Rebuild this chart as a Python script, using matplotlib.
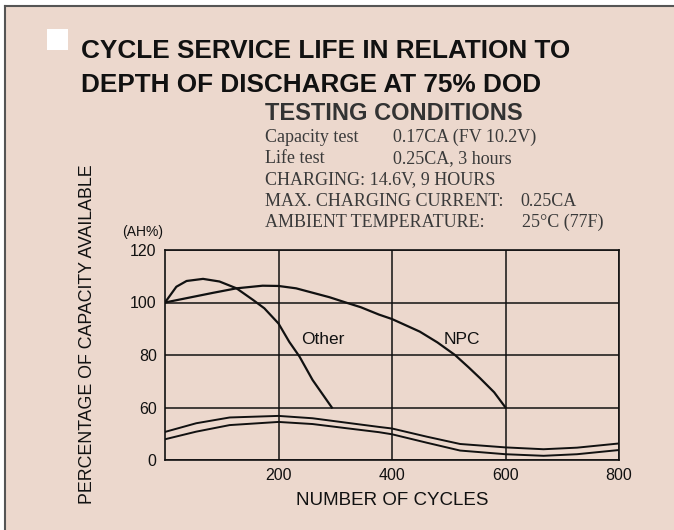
import matplotlib
matplotlib.use('Agg')
import matplotlib.pyplot as plt
from matplotlib.lines import Line2D
from matplotlib.patches import Rectangle

W, H = 674, 530

# curves (x = cycles, y = axis units, bottom tick "0" sits at 40)
other_x = [0, 20, 38, 67, 96, 126, 155, 175, 200, 219, 237, 260, 294]
other_y = [100, 106, 108.2, 109, 108, 105.4, 101, 97.8, 92, 85, 79.4, 70.5, 60]
npc_x = [0, 85, 126, 172, 200, 231, 290, 320, 345, 377, 400, 449, 480, 511, 535, 555, 580, 600]
npc_y = [100, 103.7, 105.4, 106.4, 106.3, 105.4, 102, 99.9, 98.2, 95.4, 93.7, 88.9, 84.8, 80, 75.3, 71.2, 65.8, 60]
band_x = [0, 55, 114, 200, 260, 320, 377, 400, 461, 520, 600, 667, 726, 800]
band_top = [50.7, 54, 56.2, 56.8, 55.9, 54.2, 52.6, 52, 48.9, 46.1, 44.8, 44.1, 44.7, 46.3]
band_bot = [47.9, 50.8, 53.3, 54.5, 53.7, 52.1, 50.6, 49.8, 46.6, 43.6, 42.2, 41.6, 42.2, 43.8]

ytick_pos = [40, 60, 80, 100, 120]
ytick_lab = ['0', '60', '80', '100', '120']
xtick_pos = [200, 400, 600, 800]
xtick_lab = ['200', '400', '600', '800']

cond_lines = [('Capacity test', '0.17CA (FV 10.2V)', 393),
              ('Life test', '0.25CA, 3 hours', 393),
              ('CHARGING: 14.6V, 9 HOURS', '', 0),
              ('MAX. CHARGING CURRENT:', '0.25CA', 520),
              ('AMBIENT TEMPERATURE:', '25\u00b0C (77F)', 522)]

bg = '#ECD8CD'

def px(x, y):
    return x / W, 1 - y / H

fig = plt.figure(figsize=(W / 100, H / 100), dpi=100, facecolor='white')
fig.patches.append(Rectangle(px(5, H), (W - 5) / W, (H - 6) / H, transform=fig.transFigure,
                             facecolor=bg, edgecolor='none', zorder=-10))
fig.lines.append(Line2D([5 / W, 5 / W], [0, 1 - 6 / H], transform=fig.transFigure, color='#555555', lw=1.5))
fig.lines.append(Line2D([5 / W, 1], [1 - 6 / H, 1 - 6 / H], transform=fig.transFigure, color='#555555', lw=1.5))

# white square bullet
fig.patches.append(Rectangle(px(47, 50), 21 / W, 21 / H, transform=fig.transFigure,
                             facecolor='white', edgecolor='none'))

x0, y0 = px(81, 58)
fig.text(x0, y0, 'CYCLE SERVICE LIFE IN RELATION TO', fontsize=18.8, fontweight='bold',
         family='Liberation Sans', color='#111111', va='baseline')
x0, y0 = px(81, 92)
fig.text(x0, y0, 'DEPTH OF DISCHARGE AT 75% DOD', fontsize=18.8, fontweight='bold',
         family='Liberation Sans', color='#111111', va='baseline')

x0, y0 = px(265, 120)
fig.text(x0, y0, 'TESTING CONDITIONS', fontsize=17, fontweight='bold',
         family='Liberation Sans', color='#333333', va='baseline')

for i, (a, b, bx) in enumerate(cond_lines):
    yb = 142 + i * 21.2
    x0, y0 = px(265, yb)
    fig.text(x0, y0, a, fontsize=13, family='Liberation Serif', color='#3a3a3a', va='baseline')
    if b:
        x1, _ = px(bx, yb)
        fig.text(x1, y0, b, fontsize=13, family='Liberation Serif', color='#3a3a3a', va='baseline')

ax = fig.add_axes([165 / W, 1 - 460 / H, (619 - 165) / W, (460 - 250) / H])
ax.set_facecolor(bg)
ax.set_xlim(0, 800)
ax.set_ylim(40, 120)

ax.plot(other_x, other_y, color='#111111', lw=1.6)
ax.plot(npc_x, npc_y, color='#111111', lw=1.6)
ax.plot(band_x, band_top, color='#111111', lw=1.4)
ax.plot(band_x, band_bot, color='#111111', lw=1.4)

ax.text(278, 86, 'Other', fontsize=12.5, family='Liberation Sans', ha='center', va='center', color='#111111')
ax.text(523, 86, 'NPC', fontsize=12.5, family='Liberation Sans', ha='center', va='center', color='#111111')

ax.set_xticks(xtick_pos)
ax.set_xticklabels(xtick_lab)
ax.set_yticks(ytick_pos)
ax.set_yticklabels(ytick_lab)
ax.tick_params(length=0, labelsize=11.5, colors='#111111')
ax.tick_params(axis='x', pad=6)
ax.tick_params(axis='y', pad=6)
for lab in ax.get_xticklabels() + ax.get_yticklabels():
    lab.set_family('Liberation Sans')
ax.grid(True, color='#111111', lw=1.1)
for s in ax.spines.values():
    s.set_color('#111111')
    s.set_linewidth(1.2)

ax.set_xlabel('NUMBER OF CYCLES', fontsize=13.5, family='Liberation Sans', color='#111111', labelpad=6)

x0, y0 = px(88, 334)
fig.text(x0, y0, 'PERCENTAGE OF CAPACITY AVAILABLE', fontsize=12.8, family='Liberation Sans',
         rotation=90, ha='center', va='center', color='#111111')
x0, y0 = px(143, 232)
fig.text(x0, y0, '(AH%)', fontsize=10, family='Liberation Sans', ha='center', va='center', color='#111111')

fig.savefig('out.png', dpi=100, facecolor=fig.get_facecolor())
